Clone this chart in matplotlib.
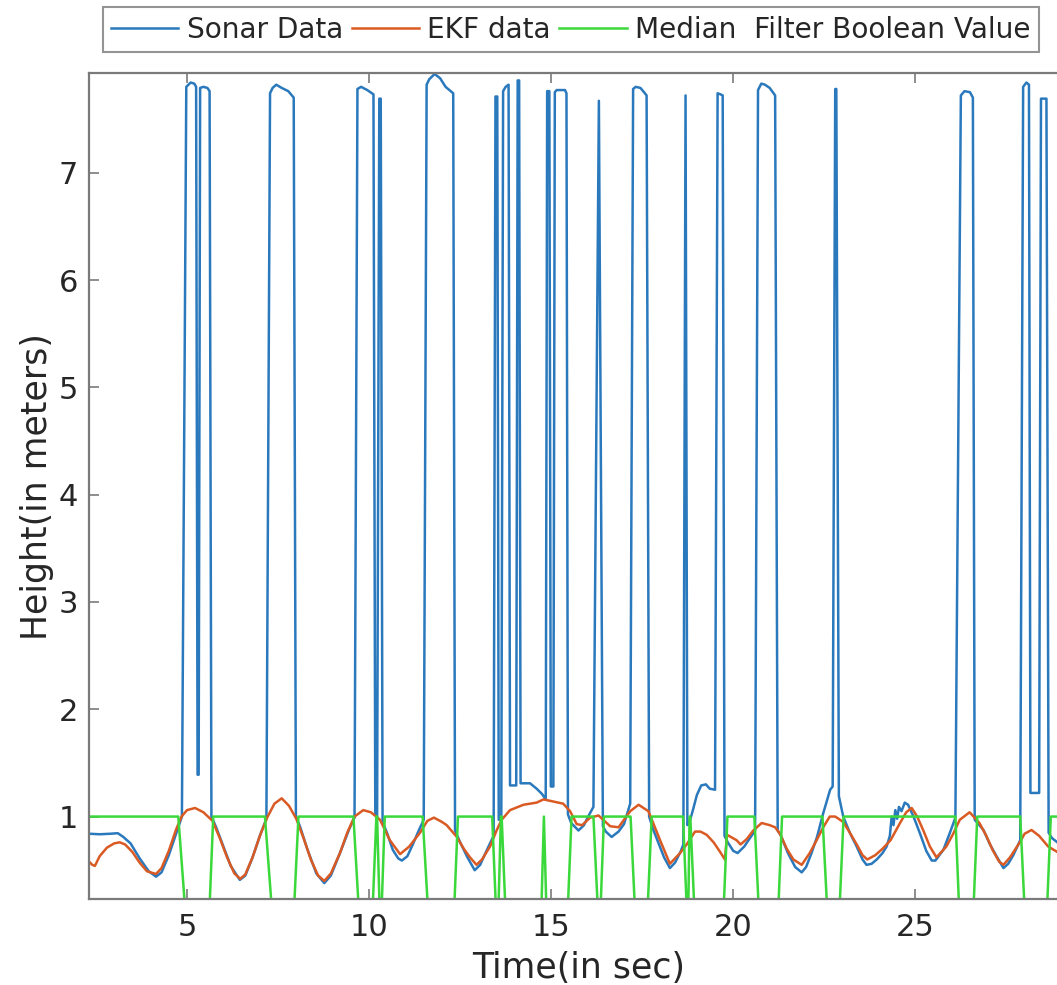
import numpy as np
import matplotlib
matplotlib.use('Agg')
import matplotlib.pyplot as plt

# sonar readings (time s, height m), spikes are the bad echoes
sonar = [
    (2.31, 0.84), (2.6, 0.835), (2.9, 0.84), (3.1, 0.845), (3.25, 0.81), (3.45, 0.75), (3.7, 0.61),
    (3.95, 0.49), (4.15, 0.44), (4.3, 0.48), (4.5, 0.64), (4.7, 0.84), (4.86, 1.0),
    (4.98, 7.80), (5.1, 7.84), (5.2, 7.83), (5.25, 7.80), (5.29, 1.39), (5.32, 1.39), (5.36, 7.79),
    (5.45, 7.80), (5.56, 7.79), (5.62, 7.76), (5.67, 1.0),
    (5.8, 0.90), (6.0, 0.72), (6.2, 0.54), (6.45, 0.41), (6.6, 0.45), (6.8, 0.62), (7.0, 0.82), (7.18, 0.98),
    (7.28, 7.74), (7.35, 7.79), (7.45, 7.82), (7.6, 7.79), (7.78, 7.76), (7.93, 7.70), (7.99, 1.0),
    (8.1, 0.91), (8.3, 0.70), (8.55, 0.47), (8.77, 0.38), (8.95, 0.45), (9.2, 0.66), (9.45, 0.88), (9.6, 0.99),
    (9.68, 7.78), (9.78, 7.80), (9.95, 7.77), (10.12, 7.73), (10.17, 1.02), (10.22, 1.0), (10.28, 7.69),
    (10.32, 7.69), (10.37, 0.95),
    (10.5, 0.84), (10.65, 0.69), (10.8, 0.61), (10.9, 0.59), (11.05, 0.63), (11.2, 0.74), (11.35, 0.86), (11.5, 0.97),
    (11.58, 7.82), (11.65, 7.87), (11.8, 7.92), (11.95, 7.88), (12.1, 7.80), (12.31, 7.74), (12.36, 0.87),
    (12.5, 0.76), (12.7, 0.62), (12.9, 0.50), (13.05, 0.55), (13.25, 0.70), (13.42, 0.82),
    (13.47, 7.71), (13.52, 7.71), (13.56, 0.97), (13.63, 0.97), (13.68, 7.76), (13.75, 7.80), (13.83, 7.82),
    (13.87, 1.29), (14.04, 1.29), (14.08, 7.86), (14.12, 7.86), (14.16, 1.31),
    (14.42, 1.31), (14.6, 1.26), (14.75, 1.21), (14.85, 1.16),
    (14.89, 7.76), (14.95, 7.76), (14.99, 1.28), (15.06, 1.28), (15.1, 7.75), (15.15, 7.77), (15.38, 7.77),
    (15.42, 7.74), (15.46, 1.02),
    (15.55, 0.94), (15.75, 0.87), (15.9, 0.92), (16.0, 0.99), (16.16, 1.09),
    (16.31, 7.67), (16.42, 0.91),
    (16.5, 0.86), (16.66, 0.81), (16.85, 0.86), (17.0, 0.93), (17.17, 1.12),
    (17.25, 7.78), (17.32, 7.80), (17.45, 7.79), (17.55, 7.75), (17.62, 7.72), (17.69, 1.0),
    (17.8, 0.88), (17.95, 0.75), (18.1, 0.62), (18.26, 0.52), (18.4, 0.57), (18.55, 0.67), (18.63, 0.74),
    (18.69, 7.72), (18.74, 0.92),
    (18.8, 0.95), (18.9, 1.07), (19.0, 1.2), (19.12, 1.29), (19.25, 1.30), (19.35, 1.26), (19.5, 1.25),
    (19.57, 7.74), (19.65, 7.73), (19.71, 7.72), (19.76, 0.82),
    (19.85, 0.76), (20.0, 0.68), (20.12, 0.66), (20.3, 0.72), (20.5, 0.82), (20.6, 0.87),
    (20.68, 7.77), (20.77, 7.83), (20.87, 7.82), (21.0, 7.79), (21.15, 7.72), (21.22, 0.87),
    (21.3, 0.83), (21.5, 0.66), (21.7, 0.53), (21.88, 0.48), (22.0, 0.53), (22.15, 0.66), (22.3, 0.81),
    (22.47, 1.03), (22.66, 1.25), (22.73, 1.28),
    (22.8, 7.78), (22.83, 7.78), (22.9, 1.19),
    (23.02, 1.0), (23.2, 0.85), (23.39, 0.72), (23.55, 0.6), (23.66, 0.55), (23.8, 0.56), (23.94, 0.60),
    (24.1, 0.66), (24.21, 0.72), (24.3, 0.82), (24.35, 1.0), (24.4, 0.92), (24.45, 1.06), (24.5, 0.98),
    (24.55, 1.09), (24.62, 1.05), (24.71, 1.13), (24.8, 1.11), (24.95, 1.0), (25.13, 0.84), (25.3, 0.68),
    (25.45, 0.59), (25.55, 0.59), (25.77, 0.69), (25.95, 0.85), (26.1, 0.99),
    (26.25, 7.72), (26.35, 7.76), (26.5, 7.75), (26.58, 7.70), (26.63, 0.97),
    (26.87, 0.875), (27.05, 0.74), (27.23, 0.63), (27.42, 0.52), (27.55, 0.56), (27.69, 0.64), (27.88, 0.78),
    (27.96, 7.80), (28.05, 7.84), (28.12, 7.82), (28.16, 1.22), (28.4, 1.22), (28.45, 7.69), (28.6, 7.69),
    (28.66, 0.85), (28.75, 0.80), (28.9, 0.76),
]

# EKF estimate (time s, height m)
ekf = [
    (2.31, 0.58), (2.4, 0.55), (2.47, 0.54), (2.6, 0.63), (2.8, 0.71), (3.0, 0.75), (3.15, 0.76),
    (3.3, 0.74), (3.5, 0.67), (3.7, 0.57), (3.9, 0.49), (4.15, 0.465), (4.3, 0.52), (4.5, 0.68),
    (4.7, 0.88), (4.85, 1.0), (5.0, 1.06), (5.22, 1.08), (5.45, 1.04), (5.7, 0.96), (5.9, 0.8),
    (6.1, 0.62), (6.3, 0.47), (6.46, 0.42), (6.6, 0.46), (6.8, 0.62), (7.0, 0.82), (7.2, 0.99),
    (7.4, 1.12), (7.6, 1.17), (7.8, 1.1), (8.0, 0.98), (8.2, 0.8), (8.4, 0.6), (8.6, 0.45),
    (8.77, 0.40), (8.95, 0.47), (9.2, 0.66), (9.4, 0.85), (9.6, 1.0), (9.84, 1.06), (10.05, 1.04),
    (10.3, 0.97), (10.57, 0.78), (10.85, 0.65), (11.1, 0.72), (11.4, 0.85), (11.6, 0.96), (11.78, 0.99),
    (12.0, 0.95), (12.13, 0.92), (12.41, 0.81), (12.6, 0.7), (12.77, 0.62), (12.95, 0.55), (13.1, 0.6),
    (13.32, 0.72), (13.5, 0.87), (13.64, 0.97), (13.87, 1.06), (14.24, 1.11), (14.6, 1.13),
    (14.79, 1.16), (15.06, 1.14), (15.33, 1.12), (15.52, 1.05), (15.7, 0.93), (15.85, 0.92),
    (16.07, 0.99), (16.3, 1.01), (16.62, 0.91), (16.85, 0.9), (17.17, 1.05), (17.4, 1.11),
    (17.67, 1.05), (17.99, 0.78), (18.26, 0.56), (18.54, 0.66), (18.72, 0.74), (18.95, 0.86),
    (19.1, 0.86), (19.27, 0.83), (19.46, 0.76), (19.64, 0.67), (19.77, 0.60), (19.83, 0.83),
    (20.09, 0.78), (20.2, 0.74), (20.37, 0.79), (20.55, 0.87), (20.78, 0.94), (21.0, 0.92),
    (21.15, 0.90), (21.28, 0.84), (21.47, 0.70), (21.65, 0.60), (21.88, 0.55), (22.1, 0.66),
    (22.29, 0.78), (22.47, 0.9), (22.65, 1.0), (22.8, 1.0), (23.02, 0.95), (23.2, 0.85), (23.39, 0.74),
    (23.55, 0.64), (23.68, 0.60), (23.9, 0.64), (24.1, 0.7), (24.32, 0.78), (24.58, 0.94), (24.75, 1.04),
    (24.9, 1.08), (25.05, 1.0), (25.22, 0.87), (25.4, 0.72), (25.58, 0.62), (25.85, 0.72), (26.04, 0.84),
    (26.22, 0.97), (26.49, 1.04), (26.76, 0.94), (26.95, 0.82), (27.12, 0.69), (27.3, 0.58),
    (27.42, 0.55), (27.6, 0.62), (27.87, 0.76), (28.0, 0.84), (28.19, 0.875), (28.4, 0.82),
    (28.65, 0.72), (28.9, 0.67),
]

# median filter flag (1 = reading accepted, 0 = rejected)
median_flag = [
    (2.31, 1), (4.76, 1), (4.98, 0), (5.60, 0), (5.72, 1), (7.14, 1), (7.36, 0), (7.92, 0), (8.06, 1),
    (9.57, 1), (9.74, 0), (10.08, 0), (10.2, 1), (10.22, 1), (10.3, 0), (10.33, 0), (10.43, 1),
    (11.47, 1), (11.64, 0), (12.32, 0), (12.44, 1), (13.38, 1), (13.5, 0), (13.54, 0), (13.62, 1),
    (13.64, 1), (13.76, 0), (14.72, 0), (14.80, 1), (14.88, 0), (15.44, 0), (15.56, 1), (16.16, 1),
    (16.30, 0), (16.34, 0), (16.45, 1), (17.18, 1), (17.32, 0), (17.63, 0), (17.76, 1), (18.62, 1),
    (18.74, 0), (18.76, 0), (18.80, 1), (18.82, 1), (18.95, 0), (19.72, 0), (19.84, 1), (20.58, 1),
    (20.72, 0), (21.22, 0), (21.34, 1), (22.45, 1), (22.6, 0), (22.9, 0), (23.03, 1), (26.1, 1),
    (26.22, 0), (26.58, 0), (26.7, 1), (27.88, 1), (28.02, 0), (28.6, 0), (28.72, 1), (28.9, 1),
]

labels = ['Sonar Data', 'EKF data', 'Median  Filter Boolean Value']
x_ticks = [5, 10, 15, 20, 25]
y_ticks = [1, 2, 3, 4, 5, 6, 7]

sonar_t, sonar_h = np.array(sonar).T
ekf_t, ekf_h = np.array(ekf).T
flag_t, flag_v = np.array(median_flag).T

W, H = 1057, 985
fig = plt.figure(figsize=(W / 100, H / 100), dpi=100)
ax = fig.add_axes([89.2 / W, (H - 899.3) / H, (W - 89.2) / W, (899.3 - 73) / H])

l1, = ax.plot(sonar_t, sonar_h, color='#2b79bd', lw=1.8)
l2, = ax.plot(ekf_t, ekf_h, color='#da5a24', lw=1.8)
l3, = ax.plot(flag_t, flag_v, color='#3ad83a', lw=1.8)

ax.set_xlim(2.314, 28.89)
ax.set_ylim(0.229, 7.929)
ax.set_xticks(x_ticks)
ax.set_yticks(y_ticks)

grey = '#7a7a7a'
for side in ['left', 'bottom', 'top']:
    ax.spines[side].set_color(grey)
    ax.spines[side].set_linewidth(1.6)
ax.spines['right'].set_visible(False)
ax.tick_params(direction='in', length=7, width=1.2, color=grey, labelcolor='#262626',
               labelsize=22, top=True, right=False)
ax.tick_params(axis='x', pad=10)
ax.tick_params(axis='y', pad=8)

ax.set_xlabel('Time(in sec)', fontsize=25, color='#262626')
ax.set_ylabel('Height(in meters)', fontsize=25, color='#262626')
ax.xaxis.set_label_coords(0.5056, -0.062)
ax.yaxis.set_label_coords(-0.036, 0.5)

leg = fig.legend([l1, l2, l3], labels, loc='upper left', bbox_to_anchor=(102.7 / W, 1 - 7.3 / H),
                 ncol=3, fontsize=20.2, frameon=True, fancybox=False, edgecolor=grey,
                 handlelength=2.4, handletextpad=0.3, columnspacing=0.3, borderpad=0.3,
                 borderaxespad=0)
leg.get_frame().set_linewidth(1.5)
for t in leg.get_texts():
    t.set_color('#262626')

fig.savefig('out.png', dpi=100)
